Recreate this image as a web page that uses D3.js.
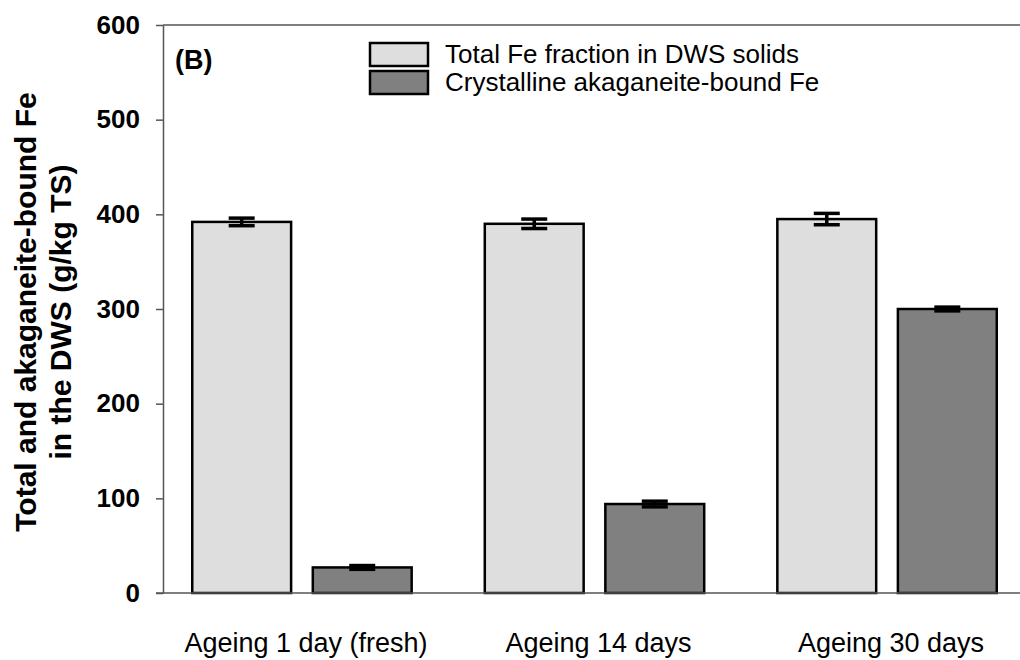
<!DOCTYPE html>
<html>
<head>
<meta charset="utf-8">
<script src="https://cdn.jsdelivr.net/npm/d3@7"></script>
<style>
body { margin: 0; background: #fff; }
svg { display: block; font-family: "Liberation Sans", Arial, sans-serif; }
</style>
</head>
<body>
<svg></svg>
<script>
let categories = ["Ageing 1 day (fresh)", "Ageing 14 days", "Ageing 30 days"]
let seriesNames = ["Total Fe fraction in DWS solids", "Crystalline akaganeite-bound Fe"]
let totalFe = [392, 390, 395]
let totalFeErr = [4, 5, 6]
let akaFe = [27, 94, 300]
let akaFeErr = [2, 3, 2]
let yTicks = [0, 100, 200, 300, 400, 500, 600]

let width = 1020
let height = 660
let plotLeft = 163
let plotTop = 25
let plotBottom = 593
let fills = ["#dedede", "#808080"]

let svg = d3.select("svg")
    .attr("width", width)
    .attr("height", height)

let rows = categories.map((c, i) => {
    return {
        cat: c,
        vals: [
            {s: 0, v: totalFe[i], e: totalFeErr[i]},
            {s: 1, v: akaFe[i], e: akaFeErr[i]}
        ]
    }
})

let yScale = d3.scaleLinear()
    .domain([0, 600])
    .range([plotBottom, plotTop])

let xScale = d3.scaleBand()
    .domain(categories)
    .range([plotLeft, 1026])
    .paddingInner(0.25)
    .paddingOuter(0.1)

let inner = d3.scaleBand()
    .domain([0, 1])
    .range([0, xScale.bandwidth()])
    .paddingInner(0.18)

// frame line on top
svg.append("line")
    .attr("x1", plotLeft).attr("x2", width)
    .attr("y1", plotTop).attr("y2", plotTop)
    .attr("stroke", "#555").attr("stroke-width", 1.5)

let groups = svg.selectAll(".grp")
    .data(rows)
    .enter()
    .append("g")
    .attr("class", "grp")
    .attr("transform", (d) => "translate(" + xScale(d.cat) + ",0)")

groups.selectAll("rect")
    .data((d) => d.vals)
    .enter()
    .append("rect")
    .attr("x", (d) => inner(d.s))
    .attr("width", inner.bandwidth())
    .attr("y", (d) => yScale(d.v))
    .attr("height", (d) => plotBottom - yScale(d.v))
    .attr("fill", (d) => fills[d.s])
    .attr("stroke", "#000")
    .attr("stroke-width", 2.5)

let capW = 13
let err = groups.selectAll(".err")
    .data((d) => d.vals)
    .enter()
    .append("g")
    .attr("class", "err")
    .attr("transform", (d) => "translate(" + (inner(d.s) + inner.bandwidth() / 2) + ",0)")

err.append("line")
    .attr("x1", 0).attr("x2", 0)
    .attr("y1", (d) => yScale(d.v + d.e))
    .attr("y2", (d) => yScale(d.v - d.e))
    .attr("stroke", "#000").attr("stroke-width", 3.5)
err.append("line")
    .attr("x1", -capW).attr("x2", capW)
    .attr("y1", (d) => yScale(d.v + d.e))
    .attr("y2", (d) => yScale(d.v + d.e))
    .attr("stroke", "#000").attr("stroke-width", 3.5)
err.append("line")
    .attr("x1", -capW).attr("x2", capW)
    .attr("y1", (d) => yScale(d.v - d.e))
    .attr("y2", (d) => yScale(d.v - d.e))
    .attr("stroke", "#000").attr("stroke-width", 3.5)

// axes
let yAxis = d3.axisLeft(yScale)
    .tickValues(yTicks)
    .tickSize(7)
    .tickPadding(16)
    .tickSizeOuter(0)

let gy = svg.append("g")
    .attr("transform", "translate(" + plotLeft + ",0)")
    .call(yAxis)
gy.select(".domain").attr("stroke", "#555").attr("stroke-width", 1.5)
gy.selectAll(".tick line").attr("stroke", "#555").attr("stroke-width", 1.5)
gy.selectAll(".tick text")
    .attr("font-size", 26)
    .attr("font-weight", "bold")
    .attr("fill", "#000")
    .attr("font-family", "Liberation Sans, Arial, sans-serif")

svg.append("line")
    .attr("x1", plotLeft - 7).attr("x2", width)
    .attr("y1", plotBottom).attr("y2", plotBottom)
    .attr("stroke", "#555").attr("stroke-width", 1.5)

svg.selectAll(".cat")
    .data(categories)
    .enter()
    .append("text")
    .attr("class", "cat")
    .attr("x", (d) => xScale(d) + xScale.bandwidth() / 2 + 4)
    .attr("y", 652)
    .attr("text-anchor", "middle")
    .attr("font-size", 27)
    .text((d) => d)

// y title
let yt = svg.append("text")
    .attr("transform", "translate(36,312) rotate(-90)")
    .attr("text-anchor", "middle")
    .attr("font-size", 30)
    .attr("font-weight", "bold")
yt.append("tspan").attr("x", 0).attr("dy", 0).text("Total and akaganeite-bound Fe")
yt.append("tspan").attr("x", 0).attr("dy", 35).text("in the DWS (g/kg TS)")

svg.append("text")
    .attr("x", 175)
    .attr("y", 69)
    .attr("font-size", 27)
    .attr("font-weight", "bold")
    .text("(B)")

// legend
let leg = svg.selectAll(".leg")
    .data(seriesNames)
    .enter()
    .append("g")
    .attr("class", "leg")
    .attr("transform", (d, i) => "translate(370," + (43 + i * 28) + ")")
leg.append("rect")
    .attr("width", 58).attr("height", 23)
    .attr("fill", (d, i) => fills[i])
    .attr("stroke", "#000").attr("stroke-width", 2.5)
leg.append("text")
    .attr("x", 75)
    .attr("y", 20)
    .attr("font-size", 26)
    .text((d) => d)
</script>
</body>
</html>
